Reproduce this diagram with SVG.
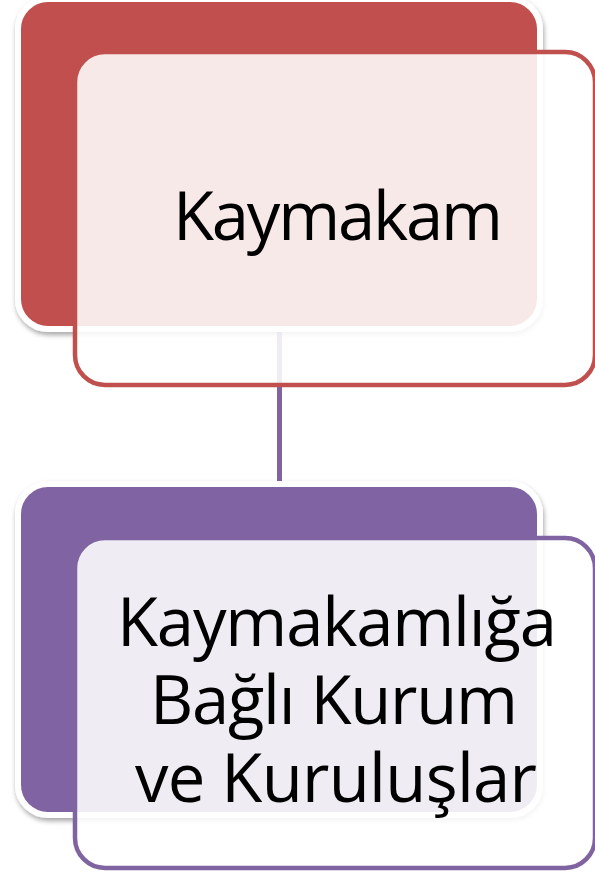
<svg xmlns="http://www.w3.org/2000/svg" width="595" height="877" viewBox="0 0 595 877">
<style>
.back{stroke:#ffffff;stroke-width:6;filter:url(#sh)}
.front{fill:#ffffff;fill-opacity:0.88;stroke-width:4.5}
.txt{font-family:"Open Sans","Noto Sans","Liberation Sans",sans-serif;font-size:67px;fill:#000000;text-anchor:middle}
.conn{stroke:#8064A2;stroke-width:5;fill:none}
</style>
<defs>
<filter id="sh" x="-10%" y="-10%" width="120%" height="125%">
<feDropShadow dx="1" dy="3" stdDeviation="2.5" flood-color="#000000" flood-opacity="0.35"/>
</filter>
</defs>
<rect width="595" height="877" fill="#ffffff"/>
<g id="connectors">
<line class="conn" x1="279.5" y1="328" x2="279.5" y2="486"/>
</g>
<g id="node-kaymakam">
<rect class="back" x="18" y="-1" width="522" height="330" rx="30" fill="#C0504D"/>
<rect class="front" x="75" y="52" width="520" height="333" rx="30" stroke="#C0504D"/>
<text class="txt" x="338" y="240" textLength="330">Kaymakam</text>
</g>
<g id="node-kurumlar">
<rect class="back" x="18" y="484" width="522" height="331" rx="30" fill="#8064A2"/>
<rect class="front" x="75" y="538" width="520" height="330" rx="30" stroke="#8064A2"/>
<text class="txt" x="337" y="646" textLength="440">Kaymakamlığa</text>
<text class="txt" x="334" y="724" textLength="368">Bağlı Kurum</text>
<text class="txt" x="336" y="802" textLength="402">ve Kuruluşlar</text>
</g>
</svg>
